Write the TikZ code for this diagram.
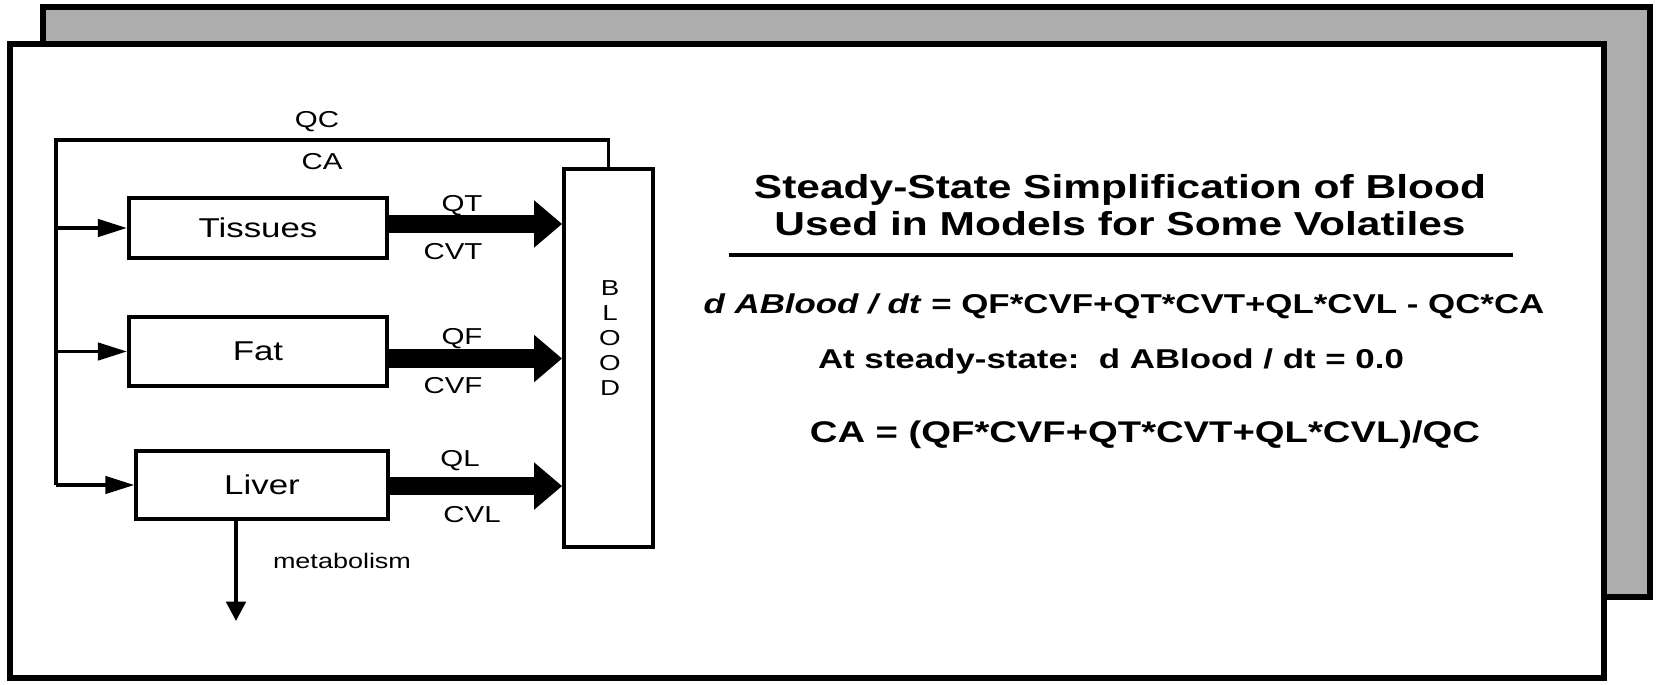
\documentclass[tikz,border=0pt]{standalone}
\usepackage{fontspec}
\setmainfont[FakeStretch=1.28]{Liberation Sans}
\usetikzlibrary{arrows.meta}

\begin{document}
\begin{tikzpicture}[
  x=0.02cm, y=-0.02cm,
  frame/.style={draw=black, line width=2.9pt},
  box/.style={draw, line width=2.3pt, fill=white, inner sep=0pt,
              font=\fontsize{15.5}{18}\selectfont},
  pipe/.style={line width=2.2pt},
  branch/.style={line width=2.2pt, -{Triangle[length=16.6pt, width=9.8pt]}},
  flow/.style={line width=10.6pt, -{Triangle[length=16pt, width=26pt]}},
  drain/.style={line width=2.2pt, -{Triangle[length=11pt, width=11pt]}},
  lbl/.style={anchor=base, inner sep=0pt, font=\fontsize{13.1}{15}\selectfont},
  small/.style={anchor=base, inner sep=0pt, font=\fontsize{12}{14}\selectfont},
  head/.style={anchor=base, inner sep=0pt, font=\fontsize{18.9}{22}\bfseries},
  eqn/.style={anchor=base, inner sep=0pt, font=\fontsize{15.5}{18}\bfseries},
  eqbig/.style={anchor=base, inner sep=0pt, font=\fontsize{17}{20}\bfseries}
]
\useasboundingbox (0,0) rectangle (1658,684);

% stacked slide frames
\draw[frame, fill=black!32] (43,7) rectangle (1650,597);
\draw[frame, fill=white] (10,44) rectangle (1604,678);

% compartments
\node[box, minimum width=146.8pt, minimum height=34.6pt] (tis)   at (258,228)   {Tissues};
\node[box, minimum width=146.8pt, minimum height=39.7pt] (fat)   at (258,351.5) {Fat};
\node[box, minimum width=142.9pt, minimum height=39.1pt] (liver) at (262,485)   {Liver};
\node[box, minimum width=50.5pt,  minimum height=214.9pt] (blood) at (608.5,358) {};
\node[inner sep=0pt, align=center, font=\fontsize{12.3}{14.3}\selectfont] (bloodtxt)
  at (610,338) {B\\L\\O\\O\\D};

% arterial loop and distribution
\coordinate (tl) at (56,140);
\draw[pipe] (blood.north) |- (tl) -- (tl |- liver.west);
\draw[branch] (tl |- tis.west) -- (tis.west);
\draw[branch] (tl |- fat.west) -- (fat.west);
\draw[branch] (tl |- liver.west) -- (liver.west);

% venous return
\draw[flow] ([yshift=2.3pt]tis.east) -- ([yshift=2.3pt]tis.east -| blood.west);
\draw[flow] ([yshift=-4pt]fat.east) -- ([yshift=-4pt]fat.east -| blood.west);
\draw[flow] ([yshift=-0.6pt]liver.east) -- ([yshift=-0.6pt]liver.east -| blood.west);

% metabolism
\coordinate (metab) at (236,621);
\draw[drain] (liver.south -| metab) -- (metab);

% labels
\node[lbl] (qc)  at (317,127) {QC};
\node[lbl] (ca)  at (322,169) {CA};
\node[lbl] (qt)  at (462,211) {QT};
\node[lbl] (cvt) at (453,259) {CVT};
\node[lbl] (qf)  at (462,344) {QF};
\node[lbl] (cvf) at (453,393) {CVF};
\node[lbl] (ql)  at (460,466) {QL};
\node[lbl] (cvl) at (472,522) {CVL};
\node[small] (met) at (342,568) {metabolism};

% title and equations
\node[head] (t1) at (1120,198) {Steady-State Simplification of Blood};
\node[head] (t2) at (1120,235) {Used in Models for Some Volatiles};
\draw[line width=2.4pt] (729,255) -- (1513,255);
\node[eqn] (eq1) at (1124,313) {\textit{d ABlood / dt} = QF*CVF+QT*CVT+QL*CVL - QC*CA};
\node[eqn] (eq2) at (1111,368) {At steady-state:\ \ d ABlood / dt = 0.0};
\node[eqbig] (eq3) at (1145,442) {CA = (QF*CVF+QT*CVT+QL*CVL)/QC};
\end{tikzpicture}
\end{document}
